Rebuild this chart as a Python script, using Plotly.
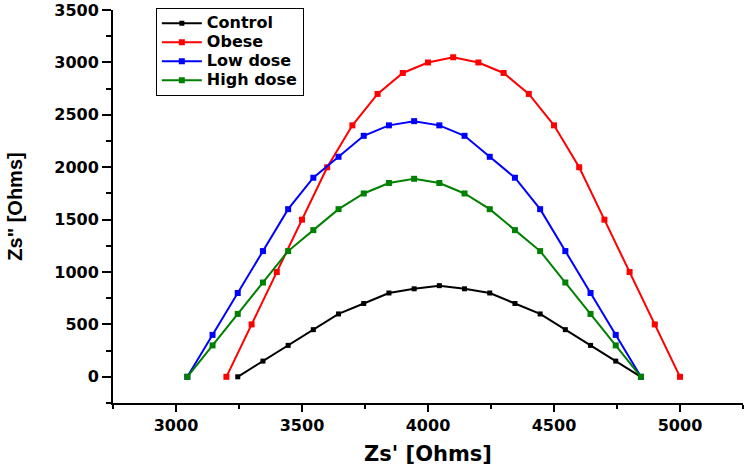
import plotly.graph_objects as go

# ---- data ----
control_x = [3245, 3345, 3445, 3545, 3645, 3745, 3845, 3945, 4045, 4145, 4245, 4345, 4445, 4545, 4645, 4745, 4845]
control_y = [0, 150, 300, 450, 600, 700, 800, 840, 870, 840, 800, 700, 600, 450, 300, 150, 0]

obese_x = [3200, 3300, 3400, 3500, 3600, 3700, 3800, 3900, 4000, 4100, 4200, 4300, 4400, 4500, 4600, 4700, 4800, 4900, 5000]
obese_y = [0, 500, 1000, 1500, 2000, 2400, 2700, 2900, 3000, 3050, 3000, 2900, 2700, 2400, 2000, 1500, 1000, 500, 0]

low_x = [3045, 3145, 3245, 3345, 3445, 3545, 3645, 3745, 3845, 3945, 4045, 4145, 4245, 4345, 4445, 4545, 4645, 4745, 4845]
low_y = [0, 400, 800, 1200, 1600, 1900, 2100, 2300, 2400, 2440, 2400, 2300, 2100, 1900, 1600, 1200, 800, 400, 0]

high_x = [3045, 3145, 3245, 3345, 3445, 3545, 3645, 3745, 3845, 3945, 4045, 4145, 4245, 4345, 4445, 4545, 4645, 4745, 4845]
high_y = [0, 300, 600, 900, 1200, 1400, 1600, 1750, 1850, 1890, 1850, 1750, 1600, 1400, 1200, 900, 600, 300, 0]

series_names = ["Control", "Obese", "Low dose", "High dose"]
series_colors = ["#000000", "#FF0000", "#0000FF", "#008000"]

x_title = "Zs' [Ohms]"
y_title = "Zs'' [Ohms]".replace("''", '"')

fig = go.Figure()
data = [(control_x, control_y), (obese_x, obese_y), (low_x, low_y), (high_x, high_y)]
for (xs, ys), name, col in zip(data, series_names, series_colors):
    fig.add_trace(go.Scatter(
        x=xs, y=ys, name=f'<span style="font-size:16px">{name}</span>', mode="lines+markers",
        line=dict(color=col, width=2),
        marker=dict(symbol="square", size=6 if name != "Control" else 5, color=col),
    ))

tick_font = dict(family="DejaVu Sans", size=16, color="#000000", weight="bold")

fig.update_layout(
    width=744, height=466, autosize=False,
    margin=dict(l=113, r=1, t=10, b=63),
    paper_bgcolor="white", plot_bgcolor="white",
    showlegend=True,
    legend=dict(
        x=0.068, y=1.006, xanchor="left", yanchor="top",
        bordercolor="#000000", borderwidth=1, bgcolor="rgba(255,255,255,0)",
        font=dict(family="DejaVu Sans", size=12, color="#000000", weight="bold"),
        tracegroupgap=0, itemwidth=40,
    ),
    xaxis=dict(
        range=[2750, 5250], tick0=3000, dtick=500,
        showline=True, linewidth=2, linecolor="#000000",
        ticks="outside", ticklen=7, tickwidth=2, tickcolor="#000000",
        minor=dict(dtick=250, ticks="outside", ticklen=4, tickwidth=2, tickcolor="#000000"),
        showgrid=False, zeroline=False, automargin=False,
        tickfont=tick_font,
        title=dict(text=x_title, font=dict(family="DejaVu Sans", size=21, color="#000000", weight="bold"), standoff=12),
    ),
    yaxis=dict(
        range=[-250, 3501], tick0=0, dtick=500,
        showline=True, linewidth=2, linecolor="#000000",
        ticks="outside", ticklen=9, tickwidth=2, tickcolor="#000000",
        minor=dict(dtick=250, ticks="outside", ticklen=5, tickwidth=2, tickcolor="#000000"),
        showgrid=False, zeroline=False, automargin=False,
        tickfont=tick_font, ticklabeloverflow="allow",
        title=dict(text=y_title, font=dict(family="Liberation Sans", size=20, color="#000000", weight="bold"), standoff=26),
    ),
)

fig.write_html("out.html")
